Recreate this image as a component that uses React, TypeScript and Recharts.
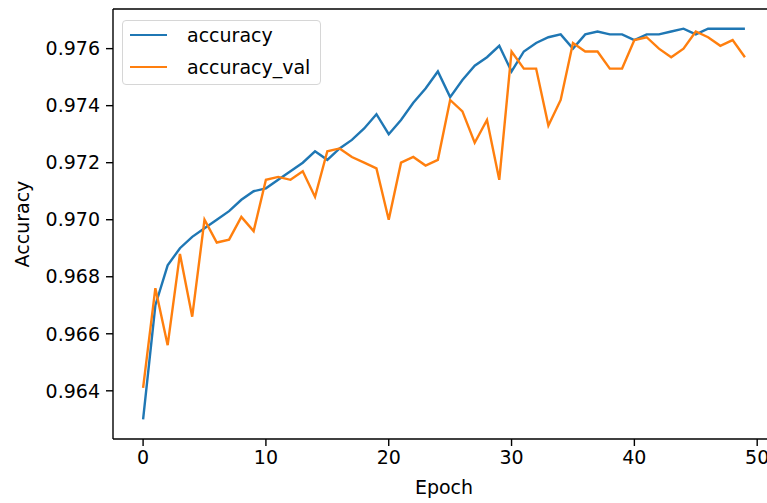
import { LineChart, Line, XAxis, YAxis, Legend, ReferenceLine } from "recharts";

const epochs = [
  0, 1, 2, 3, 4, 5, 6, 7, 8, 9, 10, 11, 12, 13, 14, 15, 16, 17, 18, 19, 20, 21, 22, 23, 24,
  25, 26, 27, 28, 29, 30, 31, 32, 33, 34, 35, 36, 37, 38, 39, 40, 41, 42, 43, 44, 45, 46, 47, 48, 49,
];

const accuracy = [
  0.963, 0.967, 0.9684, 0.969, 0.9694, 0.9697, 0.97, 0.9703, 0.9707, 0.971,
  0.9711, 0.9714, 0.9717, 0.972, 0.9724, 0.9721, 0.9725, 0.9728, 0.9732, 0.9737,
  0.973, 0.9735, 0.9741, 0.9746, 0.9752, 0.9743, 0.9749, 0.9754, 0.9757, 0.9761,
  0.9752, 0.9759, 0.9762, 0.9764, 0.9765, 0.976, 0.9765, 0.9766, 0.9765, 0.9765,
  0.9763, 0.9765, 0.9765, 0.9766, 0.9767, 0.9765, 0.9767, 0.9767, 0.9767, 0.9767,
];

const accuracyVal = [
  0.9641, 0.9676, 0.9656, 0.9688, 0.9666, 0.97, 0.9692, 0.9693, 0.9701, 0.9696,
  0.9714, 0.9715, 0.9714, 0.9717, 0.9708, 0.9724, 0.9725, 0.9722, 0.972, 0.9718,
  0.97, 0.972, 0.9722, 0.9719, 0.9721, 0.9742, 0.9738, 0.9727, 0.9735, 0.9714,
  0.9759, 0.9753, 0.9753, 0.9733, 0.9742, 0.9762, 0.9759, 0.9759, 0.9753, 0.9753,
  0.9763, 0.9764, 0.976, 0.9757, 0.976, 0.9766, 0.9764, 0.9761, 0.9763, 0.9757,
];

const xTicks = [0, 10, 20, 30, 40, 50];
const yTicks = [0.964, 0.966, 0.968, 0.97, 0.972, 0.974, 0.976];

const BLUE = "#1f77b4";
const ORANGE = "#ff7f0e";
const FONT = "DejaVu Sans";
const FS = 19;
const Y_MIN = 0.96231;
const Y_MAX = 0.97739;

const chartData = epochs.map((e, i) => ({
  epoch: e,
  accuracy: accuracy[i],
  accuracy_val: accuracyVal[i],
}));

function LegendBox() {
  const items = [
    { label: "accuracy", color: BLUE },
    { label: "accuracy_val", color: ORANGE },
  ];
  return (
    <div
      style={{
        border: "1px solid #d6d6d6",
        borderRadius: 4,
        background: "rgba(255,255,255,0.8)",
        padding: "0 9px 4px 7px",
        fontFamily: FONT,
        fontSize: FS,
        color: "#000",
        width: 181,
      }}
    >
      {items.map((it, i) => (
        <div
          key={it.label}
          style={{
            display: "flex",
            alignItems: "center",
            height: 27,
            marginBottom: i === 0 ? 5 : 0,
          }}
        >
          <span
            style={{
              display: "inline-block",
              width: 37,
              height: 0,
              borderTop: `2.4px solid ${it.color}`,
              marginRight: 20,
            }}
          />
          <span>{it.label}</span>
        </div>
      ))}
    </div>
  );
}

export default function App() {
  return (
    <div
      style={{
        position: "absolute",
        left: 0,
        top: 0,
        width: 767,
        height: 503,
        overflow: "hidden",
        background: "#fff",
      }}
    >
      <LineChart
        width={790}
        height={503}
        data={chartData}
        margin={{ top: 9, right: 15, left: 0, bottom: 0 }}
      >
        <XAxis
          dataKey="epoch"
          type="number"
          domain={[-2.45, 51.45]}
          ticks={xTicks}
          allowDataOverflow
          height={64}
          stroke="#000"
          strokeWidth={1.4}
          tickSize={7}
          tickMargin={5}
          tick={{ fill: "#000", fontFamily: FONT, fontSize: FS }}
          label={{
            value: "Epoch",
            position: "insideBottom",
            offset: 9,
            style: { fill: "#000", fontFamily: FONT, fontSize: FS },
          }}
        />
        <YAxis
          type="number"
          domain={[Y_MIN, Y_MAX]}
          ticks={yTicks}
          allowDataOverflow
          width={113}
          stroke="#000"
          strokeWidth={1.4}
          tickSize={7}
          tickMargin={6}
          tickFormatter={(v: number) => v.toFixed(3)}
          tick={{ fill: "#000", fontFamily: FONT, fontSize: FS }}
          label={{
            value: "Accuracy",
            angle: -90,
            position: "insideLeft",
            offset: 22,
            style: { fill: "#000", fontFamily: FONT, fontSize: FS, textAnchor: "middle" },
          }}
        />
        <ReferenceLine y={Y_MAX} stroke="#000" strokeWidth={1.4} ifOverflow="visible" />
        <Legend
          layout="horizontal"
          align="center"
          verticalAlign="middle"
          wrapperStyle={{ left: 122, top: 20, width: "auto", height: "auto" }}
          content={() => <LegendBox />}
        />
        <Line
          type="linear"
          dataKey="accuracy"
          stroke={BLUE}
          strokeWidth={2.4}
          dot={false}
          isAnimationActive={false}
        />
        <Line
          type="linear"
          dataKey="accuracy_val"
          stroke={ORANGE}
          strokeWidth={2.4}
          dot={false}
          isAnimationActive={false}
        />
      </LineChart>
    </div>
  );
}
